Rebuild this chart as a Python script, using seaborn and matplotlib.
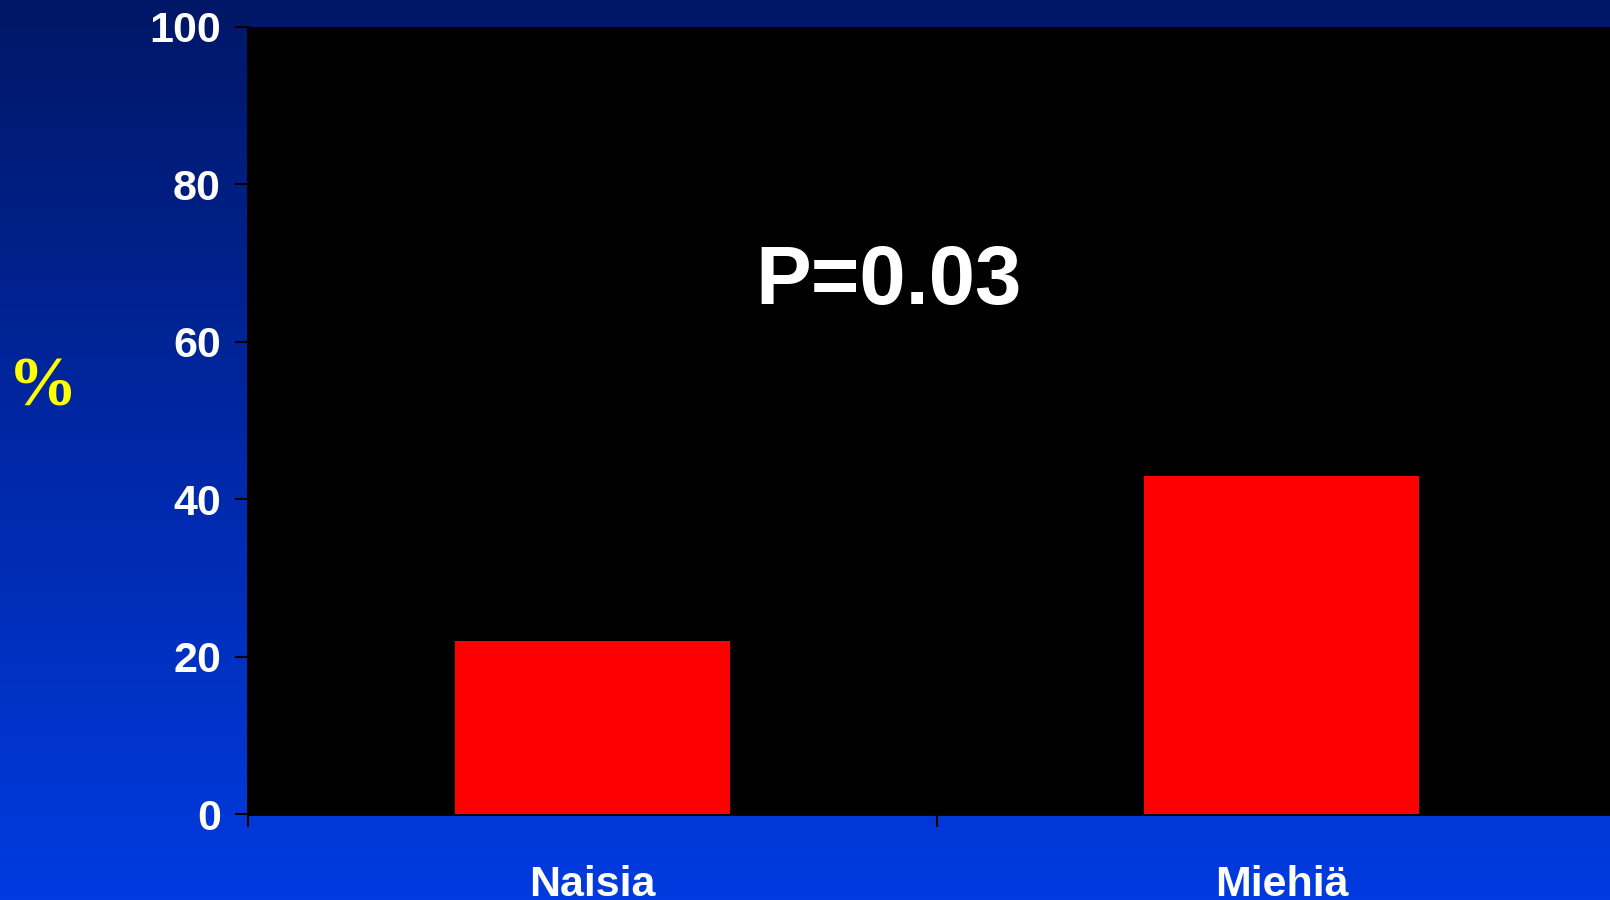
import numpy as np
import pandas as pd
import matplotlib
matplotlib.use("Agg")
import matplotlib.pyplot as plt
import seaborn as sns
from matplotlib.colors import LinearSegmentedColormap

sns.set_theme(style="white")
plt.rcParams['font.family'] = ['Liberation Sans', 'DejaVu Sans']

# ---- data ----
groups = ["Naisia", "Miehiä"]
percent = [22, 43]
y_ticks = [0, 20, 40, 60, 80, 100]
p_text = "P=0.03"
y_label = "%"

df = pd.DataFrame({"group": groups, "percent": percent})

fig = plt.figure(figsize=(16.1, 9), dpi=100)

# background gradient (navy top -> bright blue bottom)
bg = fig.add_axes([0, 0, 1, 1], zorder=-10)
grad_cmap = LinearSegmentedColormap.from_list("bg", ["#001766", "#0028a6", "#003be0"])
bg.imshow(np.linspace(0, 1, 256).reshape(-1, 1), aspect="auto", cmap=grad_cmap,
          extent=[0, 1, 0, 1], origin="upper")
bg.axis("off")

ax = fig.add_axes([248 / 1610, 86 / 900, 1378 / 1610, 787 / 900])
ax.set_facecolor("black")
sns.barplot(data=df, x="group", y="percent", color="#ff0000", saturation=1,
            width=0.4, ax=ax, zorder=3, edgecolor="none", linewidth=0)

ax.set_xlim(-0.5, 1.5)
ax.set_ylim(0, 100)
ax.set_yticks(y_ticks)
ax.set_yticklabels([str(t) for t in y_ticks], fontsize=31, fontweight="bold", color="white")
ax.tick_params(axis="y", length=9.5, width=1.5, color="black", pad=10, left=True)

ax.set_xticks([0, 1])
ax.set_xticklabels(groups, fontsize=31, fontweight="bold", color="white")
ax.set_xticks([-0.5, 0.5, 1.5], minor=True)
ax.tick_params(axis="x", which="major", length=0, pad=37)
ax.tick_params(axis="x", which="minor", length=9.5, width=1.5, color="black", bottom=True)
ax.set_xlabel("")
ax.set_ylabel("")

for side in ["top", "right"]:
    ax.spines[side].set_visible(False)
for side in ["left", "bottom"]:
    ax.spines[side].set_color("black")
    ax.spines[side].set_linewidth(2)

ax.text(0.43, 67.6, p_text, ha="center", va="center", fontsize=60,
        fontweight="bold", color="white", zorder=5)

fig.text(43 / 1610, 1 - 388 / 900, y_label, ha="center", va="center", fontsize=50,
         fontweight="bold", color="#ffff00", family=["Liberation Serif", "DejaVu Serif"])

fig.savefig("out.png", dpi=100)
